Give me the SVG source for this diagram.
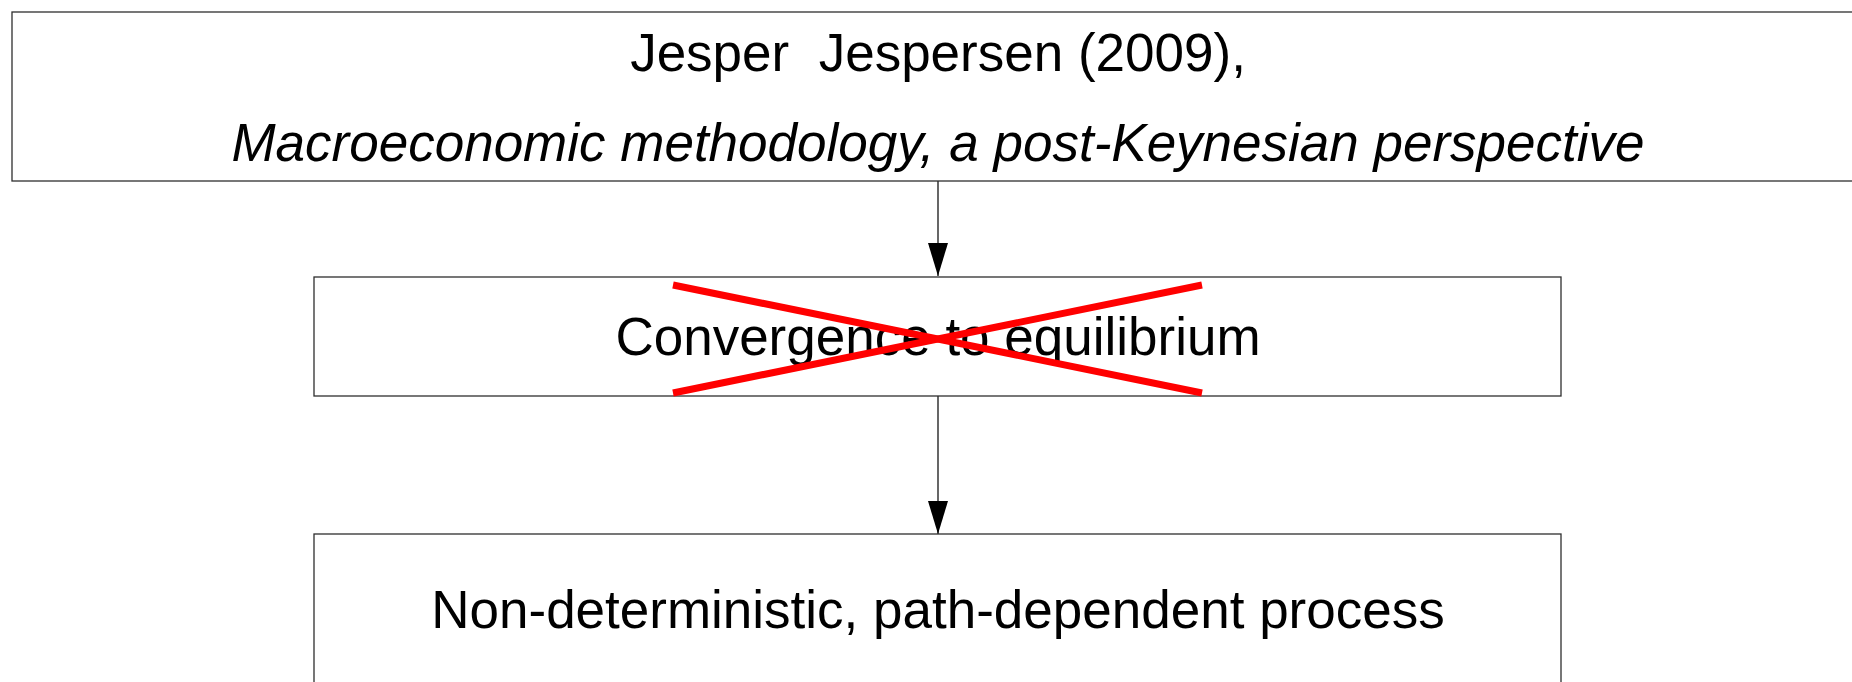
<svg xmlns="http://www.w3.org/2000/svg" width="1852" height="682" viewBox="0 0 1852 682">
  <style>
    .box { fill: #ffffff; stroke: #2e2e2e; stroke-width: 1.3; }
    .label { font-family: "Liberation Sans", Arial, sans-serif; font-size: 53px; fill: #000000; text-anchor: middle; }
    .italic { font-style: italic; }
    .link { stroke: #000000; stroke-width: 1.2; fill: none; }
    .strike { stroke: #ff0000; stroke-width: 7; stroke-linecap: butt; }
  </style>
  <defs>
    <!-- solid triangular head, 33 long and 20 wide, tip on the line end -->
    <marker id="arrow" markerUnits="userSpaceOnUse" markerWidth="33" markerHeight="20" refX="33" refY="10" orient="auto" viewBox="0 0 33 20">
      <path d="M0,0 L33,10 L0,20 Z" fill="#000000"/>
    </marker>
  </defs>
  <rect width="1852" height="682" fill="#ffffff"/>

  <g id="connectors">
    <line class="link" x1="938" y1="181" x2="938" y2="276" marker-end="url(#arrow)"/>
    <line class="link" x1="938" y1="396" x2="938" y2="534" marker-end="url(#arrow)"/>
  </g>

  <g id="source">
    <rect class="box" x="12" y="12" width="1860" height="169"/>
    <text class="label" x="938" y="71" xml:space="preserve">Jesper  Jespersen (2009),</text>
    <text class="label italic" x="938" y="161">Macroeconomic methodology, a post-Keynesian perspective</text>
  </g>

  <g id="convergence">
    <rect class="box" x="314" y="277" width="1247" height="119"/>
    <text class="label" x="938" y="355">Convergence to equilibrium</text>
    <line class="strike" x1="673" y1="285" x2="1202" y2="393"/>
    <line class="strike" x1="673" y1="393" x2="1202" y2="285"/>
  </g>

  <g id="process">
    <rect class="box" x="314" y="534" width="1247" height="170"/>
    <text class="label" x="938" y="628">Non-deterministic, path-dependent process</text>
  </g>
</svg>
